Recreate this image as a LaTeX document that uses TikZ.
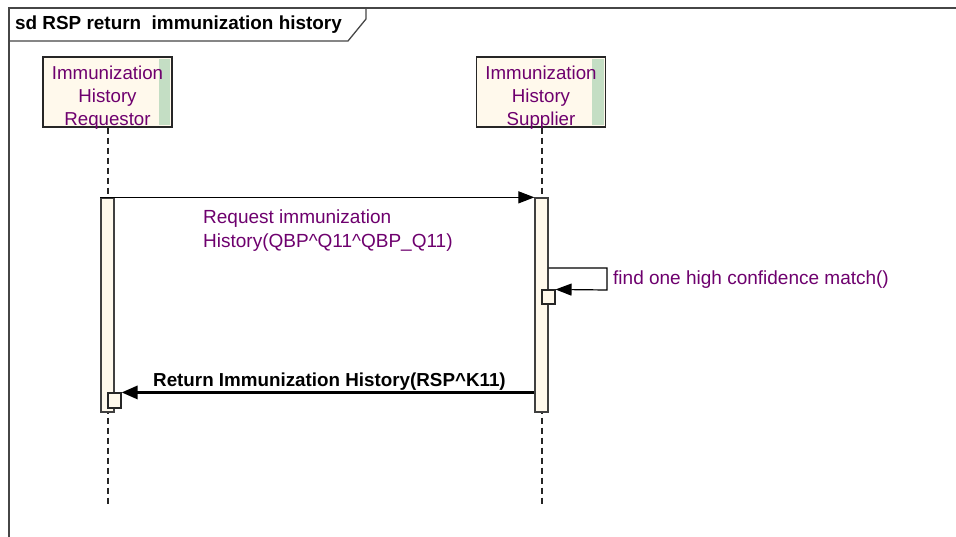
\documentclass[tikz,border=0pt]{standalone}
\usepackage{fontspec}
\setmainfont{Liberation Sans}
\usetikzlibrary{arrows.meta}
\definecolor{txtpurple}{RGB}{110,0,110}
\definecolor{cream}{RGB}{255,249,236}
\definecolor{strip}{RGB}{196,222,196}
\definecolor{framegray}{RGB}{70,70,70}
\tikzset{
  lbl/.style={font=\fontsize{19}{24}\selectfont, text=txtpurple, inner sep=0pt},
  head/.style={draw=black!85, line width=1.4pt, fill=cream, minimum width=129pt, minimum height=70pt, inner sep=0pt},
  headtxt/.style={align=center, font=\fontsize{18.7}{23}\selectfont, text=txtpurple, inner sep=0pt},
  actbar/.style={draw=black!75, line width=1.3pt, fill=cream, minimum width=13pt, inner sep=0pt},
  smallbox/.style={draw=black!85, line width=1.1pt, fill=cream, minimum width=13pt, minimum height=14pt, inner sep=0pt},
  life/.style={draw=black!85, line width=1.2pt, dash pattern=on 6pt off 4pt},
  msg/.style={draw=black, line width=1.2pt, -{Triangle[length=16pt,width=12pt]}},
  retmsg/.style={draw=black, line width=3pt, -{Triangle[length=16pt,width=13pt]}},
}
\begin{document}
\begin{tikzpicture}[x=1pt,y=-1pt]
\useasboundingbox (0,0) rectangle (956,537);
\fill[white] (0,0) rectangle (956,537);
% frame
\draw[framegray, line width=1.3pt] (9,537) -- (9,8) -- (956,8);
\draw[framegray, line width=1.3pt] (9,41) -- (348,41) -- (366,19) -- (366,8);
\node[anchor=west, inner sep=0pt, font=\bfseries\fontsize{18.9}{22}\selectfont] (title) at (15,25) {sd RSP return\ \ immunization history};
% lifeline heads
\node[head] (req) at (107.5,92) {};
\node[head] (sup) at (541,92) {};
\fill[strip] ([xshift=-14pt,yshift=-2.5pt]req.north east) rectangle ([xshift=-2.5pt,yshift=2.5pt]req.south east);
\fill[strip] ([xshift=-14pt,yshift=-2.5pt]sup.north east) rectangle ([xshift=-2.5pt,yshift=2.5pt]sup.south east);
\node[headtxt] (reqtxt) at (107.5,97.5) {Immunization\\History\\Requestor};
\node[headtxt] (suptxt) at (541,97.5) {Immunization\\History\\Supplier};
% lifelines
\coordinate (reqend) at (108,505);
\coordinate (supend) at (542,505);
\draw[life] (req.south -| reqend) -- (reqend);
\draw[life] (sup.south -| supend) -- (supend);
% activation bars
\node[actbar, minimum height=214pt] (reqbar) at (107.5,305) {};
\node[actbar, minimum height=214pt] (supbar) at (541.5,305) {};
% message 1
\draw[msg] (reqbar.north west) -- (supbar.north west);
\node[lbl, anchor=north west, align=left] (m1) at (203,210) {Request immunization\\History(QBP\^{}Q11\^{}QBP\_Q11)};
% self message
\node[smallbox] (selfbox) at (548.5,297) {};
\coordinate (s1) at (607,268);
\coordinate (s2) at (607,290);
\draw[msg] (supbar.east |- s1) -- (s1) -- (s2) -- (selfbox.north east);
\node[lbl, anchor=west] (m2) at (613,280) {find one high confidence match()};
% return message
\node[smallbox, minimum height=15pt] (retbox) at (114.5,400.5) {};
\draw[retmsg] (supbar.west |- retbox.north) -- (retbox.north east);
\node[anchor=base west, inner sep=0pt, font=\bfseries\fontsize{18.8}{22}\selectfont] (m3) at (153,386) {Return Immunization History(RSP\^{}K11)};
\end{tikzpicture}
\end{document}
